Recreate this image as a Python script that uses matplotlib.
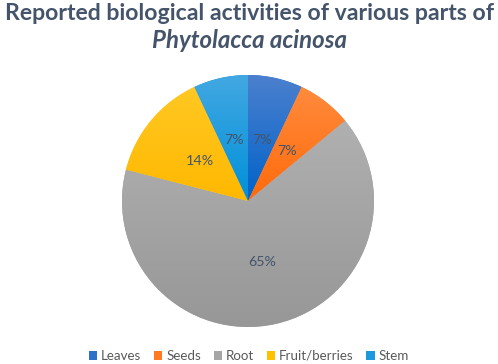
import matplotlib
matplotlib.use("Agg")
import matplotlib.pyplot as plt
import numpy as np
from matplotlib.patches import Patch
from matplotlib.colors import LinearSegmentedColormap

categories = ["Leaves", "Seeds", "Root", "Fruit/berries", "Stem"]
values = [7, 7, 65, 14, 7]
colors = ["#2E73C8", "#FF7A22", "#A6A6A6", "#FFC000", "#1D98DC"]
top_colors = ["#4C80CE", "#FF8B3D", "#B0B0B0", "#FFC823", "#42A8E2"]
bottom_colors = ["#0062C9", "#FF6A0A", "#979797", "#FFB800", "#0090D9"]

W, H = 498, 364
fig = plt.figure(figsize=(W / 100, H / 100), dpi=100)
cx, cy, r = 248, 201, 126
ax = fig.add_axes([(cx - r) / W, (H - cy - r) / H, 2 * r / W, 2 * r / H])
wedges, texts, autotexts = ax.pie(values, colors=colors, startangle=90, counterclock=False,
                                  autopct="%1.0f%%", pctdistance=0.5, radius=1,
                                  textprops=dict(color="#44546A", fontsize=10.3, family="Lato"))
ax.set_xlim(-1, 1)
ax.set_ylim(-1, 1)
ax.set_aspect("equal")
ax.axis("off")

grad = np.linspace(1, 0, 256).reshape(-1, 1)
for w, tc, bc in zip(wedges, top_colors, bottom_colors):
    verts = w.get_path().vertices
    tr = w.get_patch_transform()
    pts = tr.transform(verts)
    x0, x1 = pts[:, 0].min(), pts[:, 0].max()
    y0, y1 = pts[:, 1].min(), pts[:, 1].max()
    cmap = LinearSegmentedColormap.from_list("g", [bc, tc])
    im = ax.imshow(grad, cmap=cmap, extent=[x0, x1, y0, y1], origin="upper",
                   aspect="auto", zorder=1.5, vmin=0, vmax=1)
    im.set_clip_path(w)
ax.set_xlim(-1, 1)
ax.set_ylim(-1, 1)
for t in autotexts:
    t.set_zorder(3)

fig.text(0.5, 1 - 13 / H, "Reported biological activities of various parts of",
         ha="center", va="center", fontsize=16.6, fontweight="bold", color="#44546A", family="Lato")
fig.text(0.5, 1 - 41 / H, "Phytolacca acinosa",
         ha="center", va="center", fontsize=17.3, fontweight="bold", fontstyle="italic",
         color="#44546A", family="Lato")

handles = [Patch(facecolor=c, edgecolor="none") for c in colors]
fig.legend(handles, categories, loc="center", bbox_to_anchor=(0.5, 1 - 356 / H), ncol=5,
           frameon=False, handlelength=0.62, handleheight=0.62, handletextpad=0.3,
           columnspacing=0.95, labelcolor="#595959", prop=dict(family="Lato", size=9.6))

fig.savefig("out.png", dpi=100)
